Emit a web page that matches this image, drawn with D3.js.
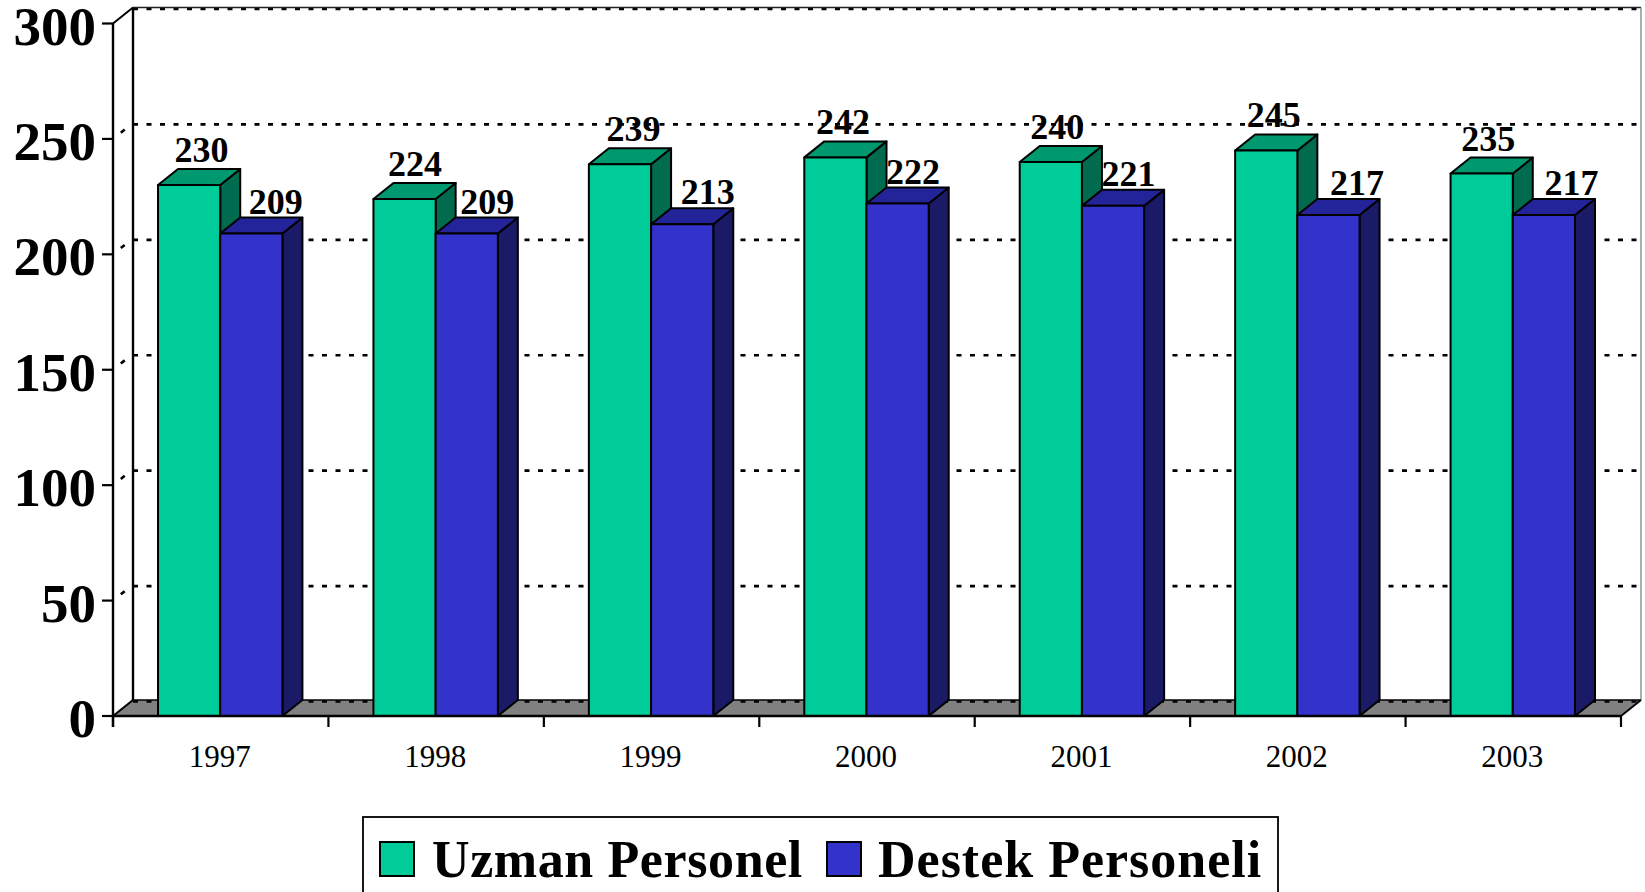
<!DOCTYPE html>
<html><head><meta charset="utf-8">
<script src="https://cdnjs.cloudflare.com/ajax/libs/d3/7.8.5/d3.min.js"></script>
<style>html,body{margin:0;padding:0;background:#fff;overflow:hidden}svg{display:block}text{font-family:"Liberation Serif","Times New Roman",serif;fill:#000}</style>
</head><body><svg id="c" width="1645" height="892"></svg>
<script>
const years=["1997","1998","1999","2000","2001","2002","2003"];
const uzman=[230,224,239,242,240,245,235];
const destek=[209,209,213,222,221,217,217];
const seriesNames=["Uzman Personel","Destek Personeli"];
const yTicks=[0,50,100,150,200,250,300];
const faceColors=["#00CC99","#3333CC"];
const topColors=["#00996F","#24249A"];
const sideColors=["#006B4E","#1A1A66"];
// hand-placed label shifts, as in the original chart
const labelShiftUzman=[-1,-3,0,-6,-7,-6,-7];
const labelShiftDestek=[-1,-5,0,-10,-10,3,2];

const svg=d3.select("#c");
const dx=20,dy=-16;
const x=d3.scaleBand().domain(years).range([113,1621]).paddingInner(0.4225).paddingOuter(0.2113);
const x1=d3.scaleBand().domain(seriesNames).range([0,x.bandwidth()]);
const y=d3.scaleLinear().domain([0,300]).range([716,23.5]);
const catEdge=d3.scaleLinear().domain([0,years.length]).range([113,1621]);
const bk="#000";

svg.append("polygon").attr("fill","#808080").attr("stroke","none")
 .attr("points",[[113,y(0)],[113+dx,y(0)+dy],[1621+dx,y(0)+dy],[1621,y(0)]].join(" "));
svg.selectAll(".grid").data(yTicks).join("line")
 .attr("x1",113+dx).attr("x2",1621+dx).attr("y1",d=>y(d)+dy+1.5).attr("y2",d=>y(d)+dy+1.5)
 .attr("stroke",bk).attr("stroke-width",2.6).attr("stroke-dasharray","5 8.5");
svg.append("line").attr("x1",113+dx).attr("x2",1621+dx).attr("y1",y(0)+dy).attr("y2",y(0)+dy).attr("stroke","#000").attr("stroke-width",1.6);
svg.append("line").attr("x1",113+dx).attr("x2",1621+dx).attr("y1",y(300)+dy).attr("y2",y(300)+dy).attr("stroke","#222").attr("stroke-width",1.6);
svg.append("line").attr("x1",1621+dx).attr("x2",1621+dx).attr("y1",y(300)+dy).attr("y2",y(0)+dy).attr("stroke","#777").attr("stroke-width",1.2);
svg.selectAll(".diag").data(yTicks).join("line")
 .attr("x1",113).attr("x2",113+dx).attr("y1",d=>y(d)).attr("y2",d=>y(d)+dy)
 .attr("stroke",bk).attr("stroke-width",d=>(d===0||d===300)?2:2.6).attr("stroke-dasharray",d=>(d===0||d===300)?null:"0 10 5 20");
svg.append("line").attr("x1",113+dx).attr("x2",113+dx).attr("y1",y(300)+dy).attr("y2",y(0)+dy).attr("stroke",bk).attr("stroke-width",2.4);
svg.append("line").attr("x1",1621).attr("x2",1621+dx).attr("y1",y(0)).attr("y2",y(0)+dy).attr("stroke",bk).attr("stroke-width",1.8);

const strokeW=2;
const barShift=-0.5;
years.forEach((yr,i)=>{
  [uzman[i],destek[i]].forEach((v,s)=>{
    const name=seriesNames[s];
    const bx=x(yr)+x1(name)+barShift, w=x1.bandwidth(), t=y(v), b=y(0);
    const g=svg.append("g").attr("class","bar").attr("stroke",bk).attr("stroke-width",strokeW).attr("stroke-linejoin","round");
    g.append("polygon").attr("fill",sideColors[s]).attr("points",[[bx+w,t],[bx+w+dx,t+dy],[bx+w+dx,b+dy],[bx+w,b]].join(" "));
    g.append("polygon").attr("fill",topColors[s]).attr("points",[[bx,t],[bx+dx,t+dy],[bx+w+dx,t+dy],[bx+w,t]].join(" "));
    g.append("rect").attr("fill",faceColors[s]).attr("x",bx).attr("y",t).attr("width",w).attr("height",b-t);
  });
});
years.forEach((yr,i)=>{
  [uzman[i],destek[i]].forEach((v,s)=>{
    const name=seriesNames[s];
    const shift=(s===0?labelShiftUzman:labelShiftDestek)[i];
    const cx=x(yr)+x1(name)+x1.bandwidth()/2+(s===0?13:25)+shift;
    svg.append("text").text(v).attr("x",cx).attr("y",y(v)-(s===0?23:20))
      .attr("text-anchor","middle").attr("font-size",36).attr("font-weight","bold");
  });
});
svg.append("line").attr("x1",113).attr("x2",113).attr("y1",y(300)).attr("y2",727).attr("stroke",bk).attr("stroke-width",2.4);
svg.append("line").attr("x1",113).attr("x2",1621).attr("y1",y(0)).attr("y2",y(0)).attr("stroke",bk).attr("stroke-width",2.4);
svg.selectAll(".yt").data(yTicks).join("line").attr("x1",102).attr("x2",113).attr("y1",d=>y(d)).attr("y2",d=>y(d)).attr("stroke",bk).attr("stroke-width",2.2);
svg.selectAll(".xt").data(d3.range(years.length+1)).join("line").attr("x1",d=>catEdge(d)).attr("x2",d=>catEdge(d)).attr("y1",y(0)).attr("y2",727).attr("stroke",bk).attr("stroke-width",2.2);
svg.selectAll(".yl").data(yTicks).join("text").text(d=>d).attr("x",96).attr("y",d=>y(d)+21)
 .attr("text-anchor","end").attr("font-size",55).attr("font-weight","bold");
svg.selectAll(".xl").data(years).join("text").text(d=>d).attr("x",d=>x(d)+x.bandwidth()/2-1).attr("y",767)
 .attr("text-anchor","middle").attr("font-size",31);

svg.append("rect").attr("x",363).attr("y",817).attr("width",915).attr("height",90).attr("fill","#fff").attr("stroke","#000").attr("stroke-width",1.8);
const legendX=[380,827], textX=[432,878];
seriesNames.forEach((n,s)=>{
  svg.append("rect").attr("x",legendX[s]).attr("y",842).attr("width",34).attr("height",34).attr("fill",faceColors[s]).attr("stroke","#000").attr("stroke-width",2);
  svg.append("text").text(n).attr("x",textX[s]).attr("y",877).attr("font-size",52).attr("font-weight","bold").attr("letter-spacing",s===0?0.6:1);
});
</script></body></html>
